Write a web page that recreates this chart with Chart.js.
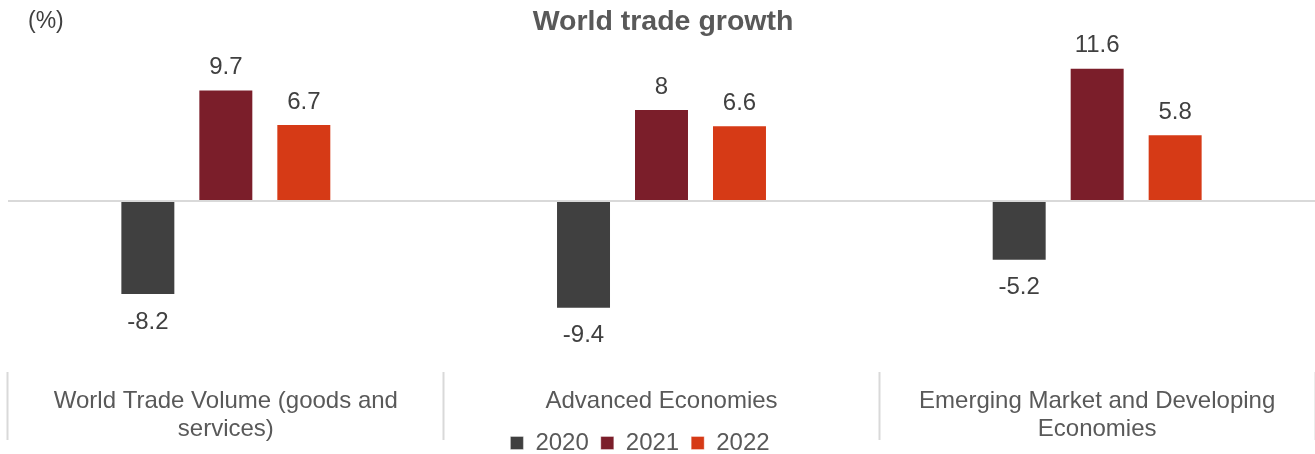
<!DOCTYPE html>
<html>
<head>
<meta charset="utf-8">
<script src="https://cdn.jsdelivr.net/npm/chart.js@4"></script>
<style>
  html, body { margin: 0; padding: 0; background: #fff; }
  #wrap { width: 1315px; height: 454px; }
</style>
</head>
<body>
<div id="wrap"><canvas id="tradecnv"></canvas></div>
<script>
const categories = [
  ['World Trade Volume (goods and', 'services)'],
  'Advanced Economies',
  ['Emerging Market and Developing', 'Economies']
];
const seriesNames = ['2020', '2021', '2022'];
const growth2020 = [-8.2, -9.4, -5.2];
const growth2021 = [9.7, 8, 11.6];
const growth2022 = [6.7, 6.6, 5.8];
const seriesColors = ['#404040', '#7b1e2a', '#d63a16'];

const FONT = "'Liberation Sans', Arial, sans-serif";

// value labels above / below each bar
const valueLabels = {
  id: 'valueLabels',
  afterDatasetsDraw(chart) {
    const ctx = chart.ctx;
    ctx.save();
    ctx.font = '24px ' + FONT;
    ctx.fillStyle = '#404040';
    ctx.textAlign = 'center';
    ctx.textBaseline = 'middle';
    chart.data.datasets.forEach((ds, i) => {
      chart.getDatasetMeta(i).data.forEach((bar, j) => {
        const v = ds.data[j];
        const y = v >= 0 ? bar.y - 22 : bar.y + 27;
        ctx.fillText(String(v), bar.x, y);
      });
    });
    ctx.restore();
  }
};

// unit note in the top left corner
const unitNote = {
  id: 'unitNote',
  afterDraw(chart) {
    const ctx = chart.ctx;
    ctx.save();
    ctx.font = '23px ' + FONT;
    ctx.fillStyle = '#404040';
    ctx.textAlign = 'left';
    ctx.textBaseline = 'middle';
    ctx.fillText('(%)', 28, 22);
    ctx.restore();
  }
};

// pull the legend up so it sits between the category labels
const legendNudge = {
  id: 'legendNudge',
  afterLayout(chart) {
    const lg = chart.legend;
    lg.left -= 23; lg.right -= 23;
    lg.top -= 25; lg.bottom -= 25;
  }
};

function buildDatasets() {
  const values = [growth2020, growth2021, growth2022];
  return seriesNames.map((name, i) => {
    return {
      label: name,
      data: values[i],
      backgroundColor: seriesColors[i],
      borderColor: 'rgba(255,255,255,0.35)',
      borderWidth: 1,
      categoryPercentage: 0.537,
      barPercentage: 0.705
    };
  });
}

const ctx = document.getElementById('tradecnv').getContext('2d');
new Chart(ctx, {
  type: 'bar',
  data: {
    labels: categories,
    datasets: buildDatasets()
  },
  options: {
    responsive: true,
    maintainAspectRatio: false,
    animation: false,
    layout: {
      padding: { left: 8, right: -3, top: 0, bottom: -36 }
    },
    plugins: {
      title: {
        display: true,
        text: 'World trade growth',
        color: '#595959',
        font: { family: FONT, size: 28.5, weight: 'bold' },
        padding: { top: 5, bottom: 1 }
      },
      legend: {
        position: 'bottom',
        labels: {
          color: '#595959',
          font: { family: FONT, size: 24 },
          boxWidth: 13,
          boxHeight: 13,
          padding: 12
        }
      },
      tooltip: { enabled: false }
    },
    scales: {
      x: {
        border: { display: false },
        grid: {
          offset: true,
          drawOnChartArea: false,
          drawTicks: true,
          tickLength: 68,
          tickColor: '#d9d9d9',
          tickWidth: 2
        },
        ticks: {
          color: '#595959',
          font: { family: FONT, size: 24, lineHeight: 1.17 },
          padding: -53,
          maxRotation: 0,
          autoSkip: false
        },
        afterFit(scale) { scale.height = 72; }
      },
      y: {
        min: -14.9,
        max: 14,
        border: { display: false },
        ticks: { display: false, stepSize: 1 },
        grid: {
          drawTicks: false,
          lineWidth: 2,
          color: c => c.tick.value === 0 ? '#d9d9d9' : 'rgba(0,0,0,0)'
        },
        afterFit(scale) { scale.width = 0; }
      }
    }
  },
  plugins: [valueLabels, unitNote, legendNudge]
});
</script>
</body>
</html>
